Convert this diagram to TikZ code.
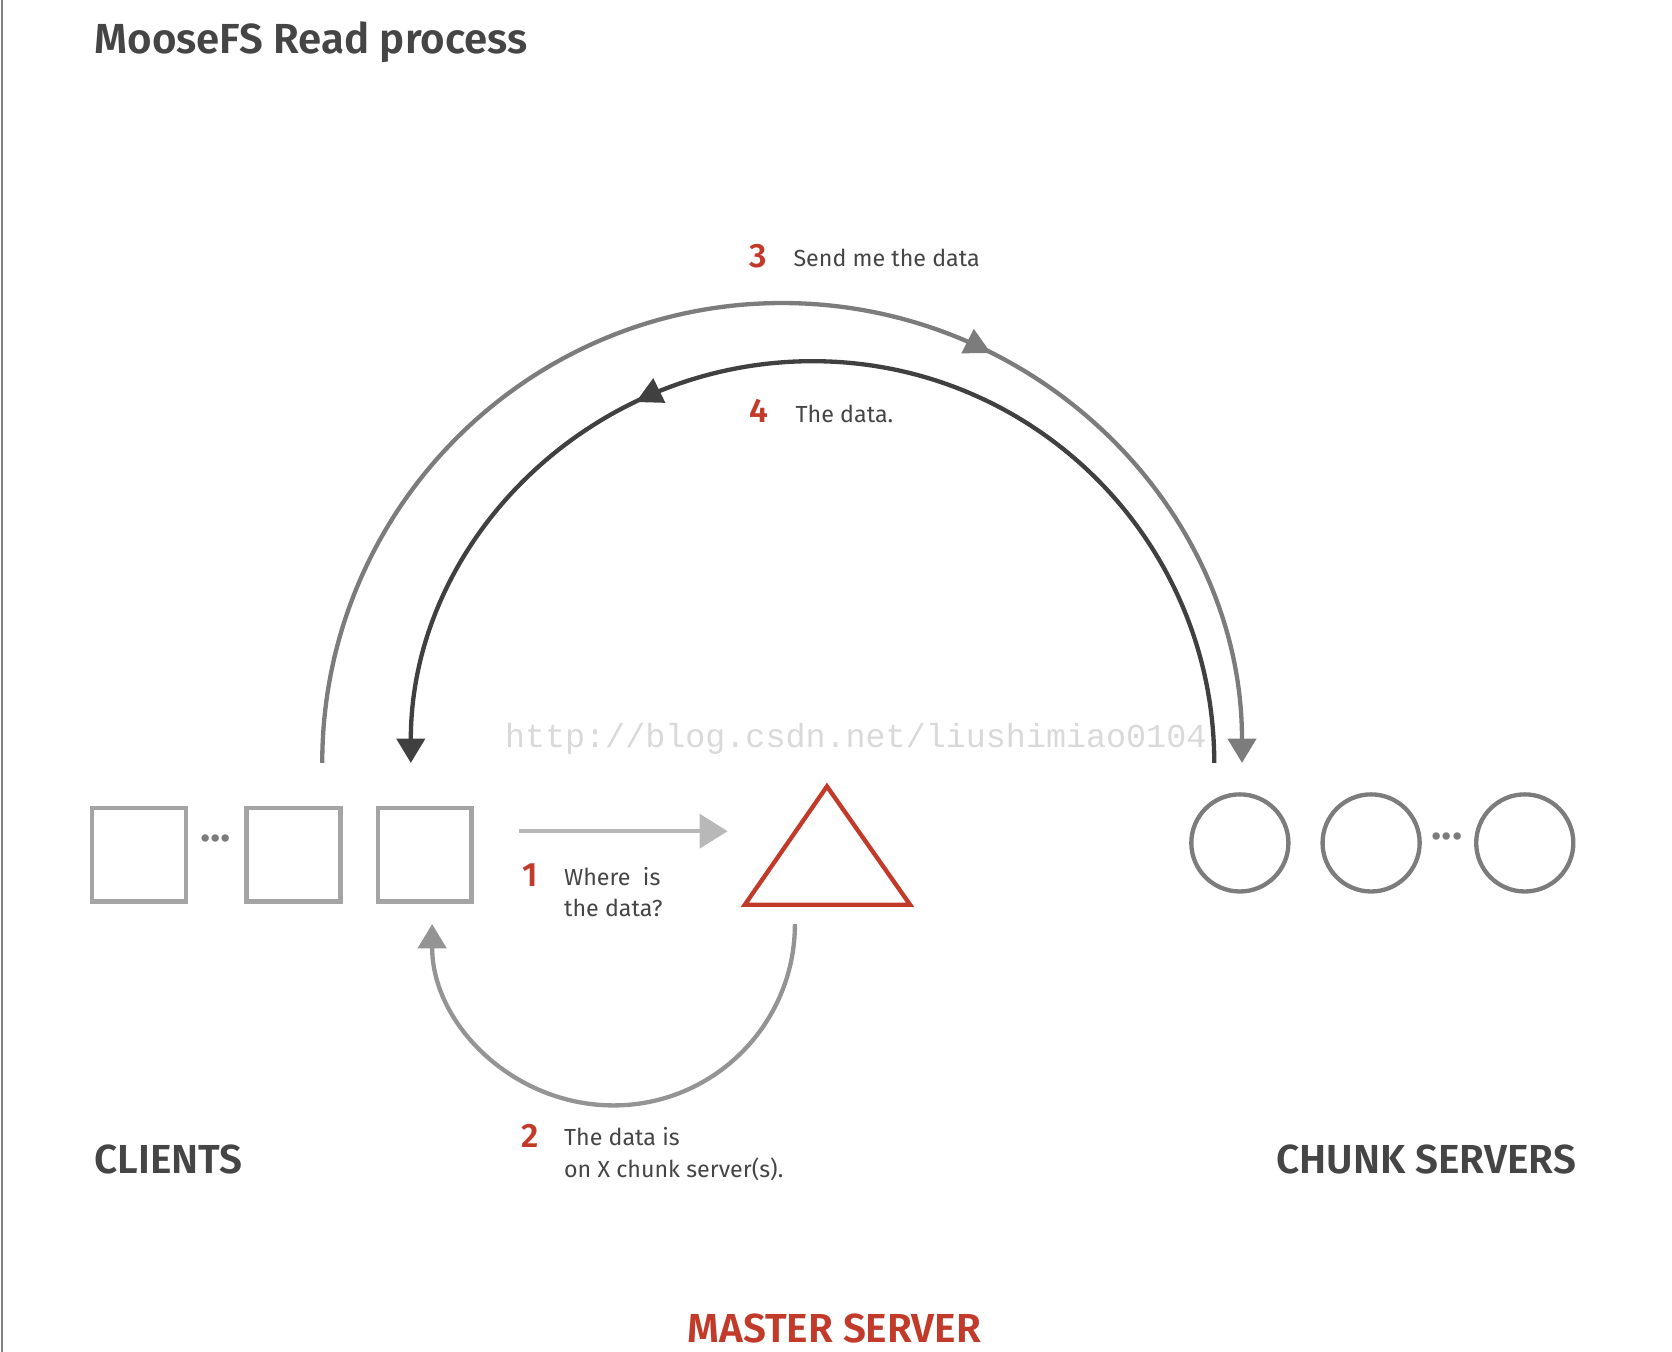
\documentclass[tikz,border=0pt]{standalone}
\usepackage{fontspec}
\setmainfont{Fira Sans}[BoldFont={Fira Sans SemiBold}]
\setmonofont{Liberation Mono}
\usetikzlibrary{arrows.meta,decorations.markings,positioning}
\definecolor{mfsred}{HTML}{C23B2A}
\definecolor{mfstext}{HTML}{454545}
\definecolor{boxgray}{HTML}{A4A4A4}
\definecolor{ringgray}{HTML}{7C7C7C}
\tikzset{
  client/.style={draw=boxgray, line width=1.15pt, minimum size=0.92cm-1.15pt, inner sep=0pt},
  chunk/.style={circle, draw=ringgray, line width=1.15pt, minimum size=0.95cm-1.15pt, inner sep=0pt},
  num/.style={text=mfsred, font=\bfseries\fontsize{9}{10}\selectfont, inner sep=0pt},
  note/.style={text=mfstext, font=\fontsize{6.2}{8.5}\selectfont, align=left, inner sep=0pt},
  group/.style={text=mfstext, font=\bfseries\fontsize{10.8}{13}\selectfont, inner sep=0pt},
  dots/.style={text=ringgray, font=\bfseries\fontsize{11.5}{12}\selectfont, inner sep=0pt},
  tip/.style={-{Triangle[length=6.5pt,width=7.5pt]}},
  midtip/.style={postaction={decorate}, decoration={markings,
      mark=at position #1 with {\arrow{Triangle[length=7pt,width=7pt]}}}}
}
\begin{document}
\begin{tikzpicture}[x=0.01cm,y=-0.01cm]
\useasboundingbox (0,0) rectangle (1567,1267);
\draw[gray, line width=0.7pt] (2,0) -- (2,1267);

% title
\node[anchor=west, text=mfstext, font=\bfseries\fontsize{11.2}{14}\selectfont, inner sep=0pt]
  (title) at (88,40) {MooseFS Read process};

% clients
\node[client] (cl1) at (130,801) {};
\node[client] (cl2) at (275,801) {};
\node[client] (cl3) at (398,801) {};
\node[dots] (cldots) at (202,786) {...};
\node[group, anchor=west] (clients) at (88,1087) {CLIENTS};

% chunk servers
\node[chunk] (cs1) at (1162,790) {};
\node[chunk] (cs2) at (1285,790) {};
\node[chunk] (cs3) at (1429,790) {};
\node[dots] (csdots) at (1356,784) {...};
\node[group, anchor=east] (chunks) at (1478,1087) {CHUNK SERVERS};

% master server
\coordinate (mtop) at (775,737);
\draw[mfsred, line width=1.15pt, line join=miter] (mtop) -- (853,848) -- (698,848) -- cycle;
\node[group, text=mfsred] (master) at (782,1245) {MASTER SERVER};

% watermark
\node[text=black!15, font=\ttfamily\fontsize{8.9}{10}\selectfont, inner sep=0pt]
  (mark) at (802,692) {http://blog.csdn.net/liushimiao0104};

% step 1
\coordinate (a1s) at (486,779);
\coordinate (a1e) at (682,779);
\draw[black!28, line width=1.15pt, -{Triangle[length=7.5pt,width=9pt]}] (a1s) -- (a1e);
\node[num] (n1) at (497,820) {1};
\node[note, anchor=west] (t1) at (528,836) {Where\ \ is\\the data?};

% step 2
\coordinate (a2s) at (745,866);
\draw[black!42, line width=1.15pt, tip] (a2s) arc[start angle=0, end angle=180, radius=170];
\node[num] (n2) at (497,1065) {2};
\node[note, anchor=west] (t2) at (528,1082) {The data is\\on X chunk server(s).};

% step 3
\coordinate (a3s) at (302,715);
\draw[ringgray, line width=1.15pt, tip, midtip=0.65] (a3s) arc[start angle=180, end angle=360, radius=431];
\node[num] (n3) at (711,240) {3};
\node[note, anchor=west] (t3) at (743,242) {Send me the data};

% step 4
\coordinate (a4s) at (1138,715);
\draw[black!75, line width=1.15pt, tip, midtip=0.645] (a4s) arc[start angle=0, end angle=-180, radius=376.5];
\node[num] (n4) at (711,385) {4};
\node[note, anchor=west] (t4) at (745,388) {The data.};
\end{tikzpicture}
\end{document}
